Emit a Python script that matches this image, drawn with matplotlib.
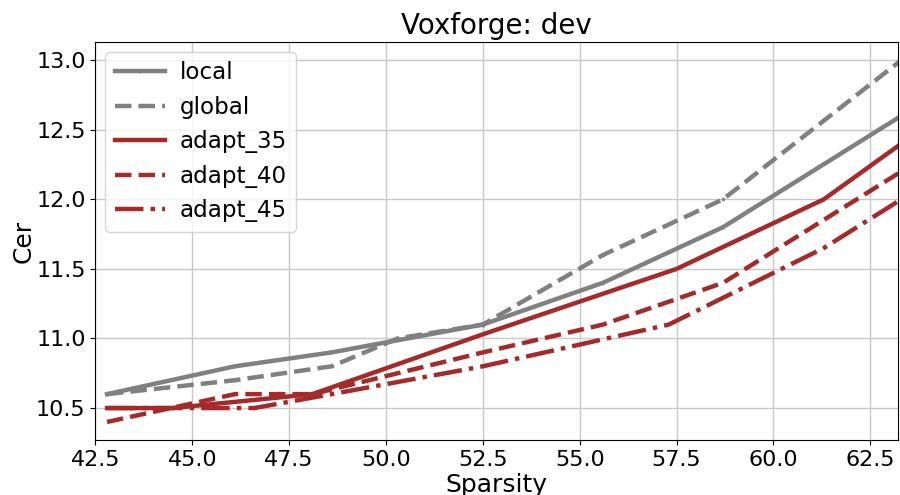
import numpy as np
import matplotlib
matplotlib.use('Agg')
import matplotlib.pyplot as plt

# values
local_x = [42.8, 46.1, 48.6, 52.5, 55.6, 58.7, 63.3]
local_y = [10.6, 10.8, 10.9, 11.1, 11.4, 11.8, 12.6]

global_x = [42.8, 46.1, 48.6, 50.3, 52.5, 55.6, 58.7, 63.3]
global_y = [10.6, 10.7, 10.8, 11.0, 11.1, 11.6, 12.0, 13.0]

adapt35_x = [42.8, 44.5, 48.1, 52.5, 57.5, 61.3, 63.3]
adapt35_y = [10.5, 10.5, 10.6, 11.03, 11.5, 12.0, 12.4]

adapt40_x = [42.8, 46.1, 48.1, 52.5, 55.6, 58.7, 63.3]
adapt40_y = [10.4, 10.6, 10.6, 10.9, 11.1, 11.4, 12.2]

adapt45_x = [42.8, 44.3, 46.6, 48.6, 52.5, 57.3, 61.3, 63.3]
adapt45_y = [10.5, 10.5, 10.5, 10.6, 10.8, 11.1, 11.65, 12.0]

fig = plt.figure(figsize=(9, 4.95), dpi=100)
ax = fig.add_subplot(111)
fig.subplots_adjust(left=0.106, right=0.998, top=0.915, bottom=0.111)

lw = 3.2
ax.plot(local_x, local_y, color='gray', linestyle='-', linewidth=lw,
        marker='|', markersize=3, markeredgewidth=1, label='local')
ax.plot(global_x, global_y, color='gray', linestyle='--', linewidth=lw,
        marker='*', markersize=3, markeredgewidth=0.5, label='global')
ax.plot(adapt35_x, adapt35_y, color='brown', linestyle='-', linewidth=lw, label='adapt_35')
ax.plot(adapt40_x, adapt40_y, color='brown', linestyle='--', linewidth=lw, label='adapt_40')
ax.plot(adapt45_x, adapt45_y, color='brown', linestyle='-.', linewidth=lw, label='adapt_45')

ax.set_xlim(42.5, 63.22)
ax.set_xticks(np.arange(42.5, 63.0, 2.5))
ax.set_yticks([10.5, 11.0, 11.5, 12.0, 12.5, 13.0])
ax.tick_params(labelsize=16)
ax.grid(True, color='#c8c8c8', linewidth=1)
ax.set_axisbelow(True)

ax.set_title('Voxforge: dev', fontsize=20)
ax.set_xlabel('Sparsity', fontsize=18, labelpad=2)
ax.set_ylabel('Cer', fontsize=18, labelpad=0.5)
ax.legend(loc='upper left', fontsize=16.6, handlelength=2.17, handletextpad=0.65,
          borderaxespad=0.43)

plt.savefig('out.png', dpi=100)
